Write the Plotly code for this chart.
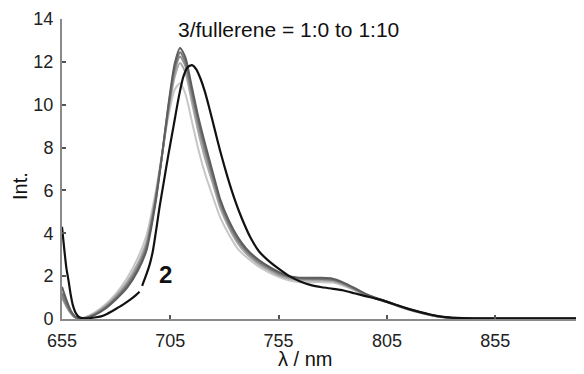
import plotly.graph_objects as go

# ---- data ----
wl_gray = [655, 657, 659, 661, 663, 666, 670, 675, 680, 685, 690, 694, 698, 701, 704,
           707, 709.5, 712, 715, 718, 721, 725, 728, 732, 736, 740, 745, 750, 755, 760,
           765, 770, 775, 780, 785, 790, 795, 800, 805, 810, 815, 820, 825, 830, 835,
           840, 850, 870, 897]

gray1 = [1.5, 0.9, 0.4, 0.12, 0.03, 0.04, 0.18, 0.48, 0.92, 1.45, 2.25, 3.2, 5.3, 7.5, 9.9,
         11.9, 12.65, 12.2, 10.8, 9.4, 8.2, 6.7, 5.6, 4.6, 3.85, 3.3, 2.82, 2.48, 2.2, 2.0,
         1.93, 1.92, 1.92, 1.88, 1.7, 1.45, 1.18, 0.98, 0.82, 0.64, 0.47, 0.33, 0.2, 0.1, 0.05,
         0.02, 0.01, 0.01, 0.01]
gray2 = [1.2, 0.75, 0.35, 0.1, 0.03, 0.05, 0.2, 0.52, 0.98, 1.55, 2.35, 3.35, 5.4, 7.5, 9.8,
         11.75, 12.45, 12.0, 10.6, 9.2, 8.0, 6.55, 5.5, 4.5, 3.75, 3.22, 2.75, 2.42, 2.15, 1.97,
         1.9, 1.88, 1.87, 1.84, 1.66, 1.42, 1.16, 0.97, 0.81, 0.63, 0.46, 0.32, 0.19, 0.1, 0.05,
         0.02, 0.01, 0.01, 0.01]
gray3 = [1.0, 0.6, 0.28, 0.08, 0.03, 0.06, 0.22, 0.56, 1.02, 1.62, 2.45, 3.45, 5.5, 7.5, 9.7,
         11.55, 12.25, 11.8, 10.4, 9.0, 7.8, 6.4, 5.35, 4.4, 3.65, 3.15, 2.7, 2.38, 2.1, 1.94,
         1.88, 1.86, 1.85, 1.82, 1.64, 1.4, 1.15, 0.96, 0.8, 0.62, 0.45, 0.31, 0.19, 0.1, 0.05,
         0.02, 0.01, 0.01, 0.01]
gray4 = [1.1, 0.65, 0.3, 0.09, 0.03, 0.07, 0.25, 0.6, 1.1, 1.72, 2.6, 3.6, 5.6, 7.5, 9.6,
         11.3, 11.95, 11.5, 10.1, 8.7, 7.5, 6.2, 5.2, 4.28, 3.55, 3.05, 2.62, 2.3, 2.04, 1.88,
         1.82, 1.8, 1.8, 1.77, 1.6, 1.38, 1.13, 0.95, 0.79, 0.61, 0.44, 0.3, 0.18, 0.09, 0.04,
         0.02, 0.01, 0.01, 0.01]
gray5 = [1.3, 0.8, 0.35, 0.1, 0.04, 0.1, 0.3, 0.68, 1.2, 1.9, 2.85, 3.9, 5.8, 7.6, 9.4,
         10.7, 11.0, 10.5, 9.2, 7.9, 6.8, 5.6, 4.75, 3.95, 3.3, 2.9, 2.5, 2.2, 1.97, 1.8,
         1.72, 1.72, 1.72, 1.7, 1.55, 1.34, 1.1, 0.93, 0.78, 0.6, 0.43, 0.3, 0.18, 0.09, 0.04,
         0.02, 0.01, 0.01, 0.01]

wl_black = [655, 656, 657, 658, 659, 660, 661.5, 663, 666, 670, 673, 676, 680, 683, 686.5,
            689, 690.8, 691.4, 692, 693.5, 695.5, 697, 698.7, 700, 702, 704, 706.5, 709, 711,
            713, 715, 717, 719, 721, 723, 725.5, 728, 731.5, 735, 738, 742, 746, 750, 755, 760,
            765, 770, 775, 780, 785, 790, 795, 800, 805, 810, 815, 820, 825, 830, 835, 840,
            850, 870, 897]
black = [4.3, 3.3, 2.4, 1.8, 1.15, 0.65, 0.25, 0.08, 0.03, 0.07, 0.12, 0.25, 0.48, 0.66, 0.9,
         1.1, 1.27, None, 1.55, 1.95, 2.55, 3.2, 4.3, 5.2, 6.4, 7.6, 9.0, 10.4, 11.3,
         11.75, 11.85, 11.65, 11.2, 10.6, 9.85, 8.85, 7.85, 6.6, 5.5, 4.7, 3.8, 3.15, 2.75,
         2.35, 2.0, 1.75, 1.58, 1.48, 1.41, 1.33, 1.2, 1.07, 0.95, 0.8, 0.63, 0.47, 0.33, 0.21,
         0.11, 0.06, 0.04, 0.03, 0.03, 0.03]

gray_series = [gray5, gray4, gray3, gray2, gray1]
gray_colors = ["#c6c6c6", "#a8a8a8", "#8e8e8e", "#767676", "#5e5e5e"]

x_ticks = [655, 705, 755, 805, 855]
y_ticks = [0, 2, 4, 6, 8, 10, 12, 14]

FONT = "Liberation Sans, Arial, sans-serif"

# the page body has an 8px default margin, so the figure is placed at (8, 8)
OFF = 8
W, H = 584 - OFF, 374 - OFF
L, T, PW, PH = 62 - OFF, 19 - OFF, 522, 300
R, B = W - L - PW, H - T - PH


def px(xp, yp):
    """page pixel -> paper coords"""
    return (xp - OFF - L) / PW, 1 - (yp - OFF - T) / PH


fig = go.Figure()
for ys, col in zip(gray_series, gray_colors):
    fig.add_trace(go.Scatter(x=wl_gray, y=ys, mode="lines",
                             line=dict(color=col, width=2, shape="spline", smoothing=0.6),
                             showlegend=False, hoverinfo="skip"))
fig.add_trace(go.Scatter(x=wl_black, y=black, mode="lines", connectgaps=False,
                         line=dict(color="#111111", width=2.2, shape="spline", smoothing=0.6),
                         showlegend=False, hoverinfo="skip"))

ann = []
for text, (xp, yp), size, ang in [
    ("3/fullerene = 1:0 to 1:10", (288, 29), 21, 0),
    ("<b>2</b>", (165, 274), 24, 0),
    ("λ / nm", (305, 359), 20, 0),
    ("Int.", (20, 186), 20, -90),
]:
    ax, ay = px(xp, yp)
    ann.append(dict(text=text, xref="paper", yref="paper", x=ax, y=ay, showarrow=False,
                    xanchor="center", yanchor="middle", textangle=ang,
                    font=dict(size=size, color="#111111")))

fig.update_layout(
    width=W, height=H,
    margin=dict(l=L, r=R, t=T, b=B, autoexpand=False),
    paper_bgcolor="white", plot_bgcolor="white",
    font=dict(family=FONT, size=18, color="#222222"),
    xaxis=dict(range=[655, 896], tickvals=x_ticks, showgrid=False, zeroline=False,
               automargin=False, ticklabelstandoff=4,
               showline=True, linecolor="#8a8a8a", linewidth=2,
               ticks="inside", ticklen=4, tickwidth=1.5, tickcolor="#555555",
               tickfont=dict(size=18, color="#222222")),
    yaxis=dict(range=[0, 14], tickvals=y_ticks, showgrid=False, zeroline=False,
               automargin=False, ticklabelstandoff=3,
               showline=True, linecolor="#8a8a8a", linewidth=2,
               ticks="inside", ticklen=4, tickwidth=1.5, tickcolor="#555555",
               tickfont=dict(size=18, color="#222222")),
    annotations=ann,
)

fig.write_html("out.html")
